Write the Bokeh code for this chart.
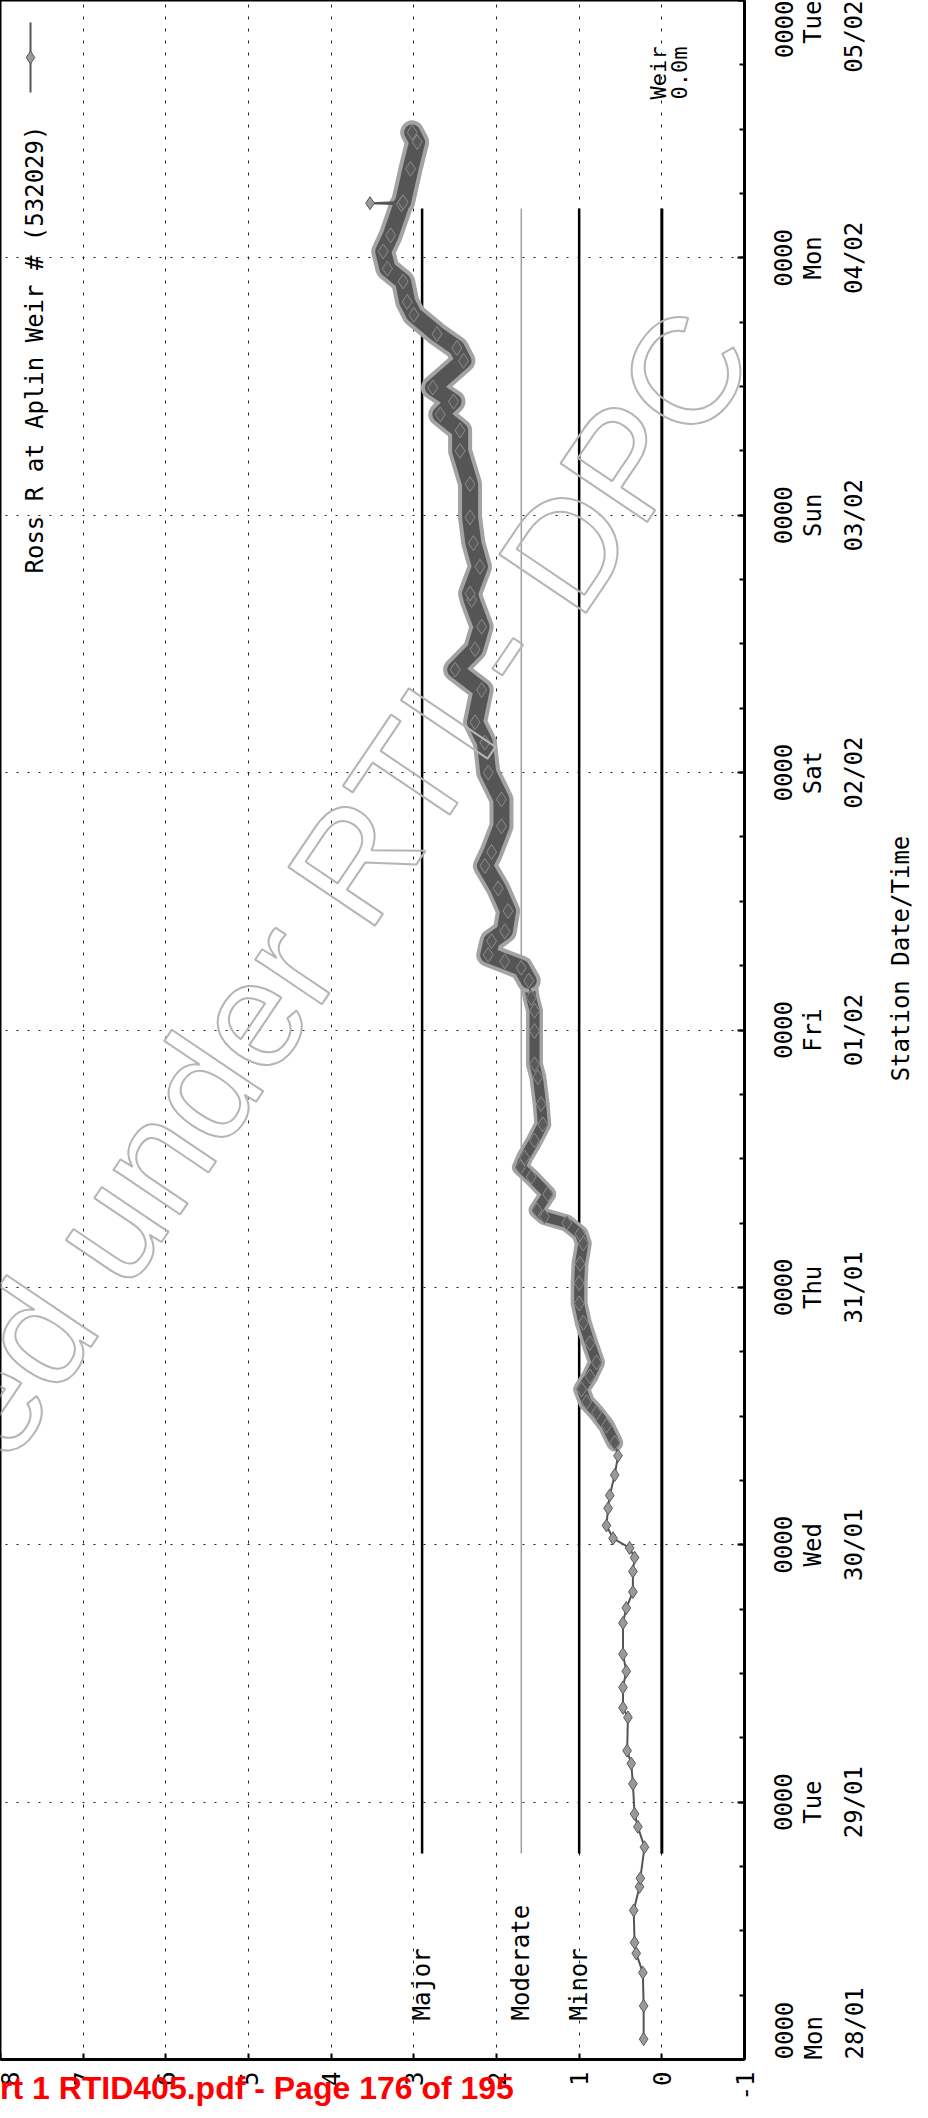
import math
from datetime import datetime, timedelta

from bokeh.plotting import figure
from bokeh.models import Range1d, FixedTicker, Label, ColumnDataSource, LinearAxis
from bokeh.embed import file_html
from bokeh.resources import INLINE

# ---------------- data ----------------
T0 = datetime(2019, 1, 28)

# hours after 28/01 00:00 and river height (m) - Ross R at Aplin Weir
hours = [1.9, 5.0, 8.1, 9.9, 10.9, 13.9, 16.1, 16.9, 19.8, 21.7, 22.9, 25.7, 27.6, 28.8,
         31.9, 32.8, 34.7, 36.2, 37.8, 40.7, 42.1, 43.6, 45.5, 46.8, 47.7, 48.6, 49.8, 51.4,
         52.6, 54.5, 56.3, 57.5, 59.1, 60.3, 61.3, 62.5, 63.7, 65.0, 66.8, 68.7, 70.5, 72.4,
         74.2, 76.1, 77.0, 78.0, 78.6, 79.2, 80.7, 82.3, 83.2, 84.1, 85.7, 87.2, 89.1, 91.6,
         92.8, 95.9, 97.8, 99.0, 100.6, 101.8, 102.4, 103.0, 104.3, 105.2, 107.1, 109.2,
         111.3, 112.6, 115.0, 117.5, 120.0, 122.8, 124.7, 127.7, 129.6, 131.5, 133.6, 136.1,
         136.7, 139.2, 141.4, 143.8, 146.9, 150.0, 151.9, 153.4, 154.6, 155.9, 158.4, 159.6,
         160.9, 162.7, 163.9, 165.8, 167.0, 168.6, 170.1, 173.0, 173.1, 173.2, 176.3, 178.8,
         179.7]
level = [0.22, 0.22, 0.23, 0.31, 0.33, 0.34, 0.27, 0.26, 0.21, 0.29, 0.33, 0.35, 0.37, 0.42,
         0.41, 0.47, 0.47, 0.43, 0.47, 0.47, 0.43, 0.35, 0.35, 0.33, 0.39, 0.59, 0.67, 0.65,
         0.63, 0.57, 0.53, 0.57, 0.67, 0.79, 0.91, 0.97, 0.87, 0.79, 0.87, 0.95, 1.00, 1.00,
         0.99, 0.95, 0.99, 1.15, 1.42, 1.51, 1.38, 1.58, 1.71, 1.66, 1.54, 1.44, 1.46, 1.50,
         1.54, 1.54, 1.54, 1.58, 1.61, 1.70, 1.90, 2.10, 2.06, 1.90, 1.86, 1.98, 2.14, 2.06,
         1.94, 1.94, 2.10, 2.14, 2.26, 2.18, 2.50, 2.26, 2.18, 2.30, 2.32, 2.20, 2.28, 2.32,
         2.32, 2.44, 2.44, 2.68, 2.52, 2.77, 2.40, 2.48, 2.72, 3.00, 3.08, 3.13, 3.32, 3.37,
         3.28, 3.15, 3.53, 3.13, 3.04, 2.96, 3.02]
spike_hours = [173.1]

threshold_names = ["Major", "Moderate", "Minor"]
threshold_values = [2.9, 1.7, 1.0, 0.0]
threshold_span_hours = [19.2, 172.6]
weir_label = ["Weir", "0.0m"]

day_hours = [0, 24, 48, 72, 96, 120, 144, 168, 192]
day_hhmm = ["0000"] * 9
day_names = ["Mon", "Tue", "Wed", "Thu", "Fri", "Sat", "Sun", "Mon", "Tue"]
day_dates = ["28/01", "29/01", "30/01", "31/01", "01/02", "02/02", "03/02", "04/02", "05/02"]
minor_hours = list(range(0, 193, 6))
value_ticks = [-1, 0, 1, 2, 3, 4, 5, 6, 7, 8]
value_labels = ["-1", "0", "1", "2", "3", "4", "5", "6", "7", "8"]

series_name = "Ross R at Aplin Weir # (532029)"
time_title = "Station Date/Time"
watermark = "Released under RTI - DPC"
footer = "rt 1 RTID405.pdf - Page 176 of 195"
x_span = [8, -1]
hour_span = [0, 192]

# ---------------- layout helpers ----------------
FW, FH = 744, 2059
PX0, PY1 = 8, 2067          # page px of frame left / bottom
PXH = FH / (hour_span[1] - hour_span[0])   # px per hour
MONO = "DejaVu Sans Mono"
FS = 24
CHAR = 0.6021 * FS          # monospace advance


def ms(h):
    return (T0 + timedelta(hours=h) - datetime(1970, 1, 1)).total_seconds() * 1000.0


def vx(px):   # page x -> value
    return x_span[0] - (px - PX0) * (x_span[0] - x_span[1]) / FW


def th(py):   # page y -> hours
    return (PY1 - py) / PXH


p = figure(frame_width=FW, frame_height=FH, output_backend="svg", toolbar_location=None,
           x_range=Range1d(x_span[0], x_span[1]), y_range=Range1d(ms(hour_span[0]), ms(hour_span[1])),
           y_axis_type="datetime", y_axis_location="right",
           min_border_left=0, min_border_top=0, min_border_right=160, min_border_bottom=43,
           background_fill_color="white", border_fill_color="white")
p.outline_line_color = "black"
p.outline_line_width = 2

# value axis (bottom); its axis label carries the page footer
xa = p.xaxis[0]
xa.ticker = FixedTicker(ticks=value_ticks)
xa.major_label_overrides = {float(v): s for v, s in zip(value_ticks, value_labels)}
xa.major_label_orientation = math.pi / 2
xa.major_label_text_font = MONO
xa.major_label_text_font_size = f"{FS}px"
xa.major_label_text_color = "black"
xa.major_label_standoff = 12
xa.major_tick_in = 6
xa.major_tick_out = 0
xa.major_tick_line_width = 2
xa.minor_tick_line_color = None
xa.axis_line_width = 3
xa.axis_label = footer + "\u00a0" * 26
xa.axis_label_text_font = "Liberation Sans"
xa.axis_label_text_font_style = "bold"
xa.axis_label_text_font_size = "32px"
xa.axis_label_text_color = "#ff0000"
xa.axis_label_standoff = -33

# time axis (right): ticks only (labels come from the text axes below)
ya = p.yaxis[0]
ya.ticker = FixedTicker(ticks=[ms(h) for h in day_hours], minor_ticks=[ms(h) for h in minor_hours])
ya.major_label_text_font_size = "0px"
ya.major_label_text_color = None
ya.major_label_standoff = 0
ya.major_tick_in = 7
ya.major_tick_out = 0
ya.major_tick_line_width = 2
ya.minor_tick_in = 5
ya.minor_tick_out = 0
ya.minor_tick_line_width = 2
ya.axis_line_width = 3

UPRIGHT = -3 * math.pi / 2   # reads bottom-to-top


def text_axis(hrs, texts, standoff):
    """extra right axis that only carries rotated labels, each centred on its hour
    (the label starts at its tick, so the tick sits half a label below the hour)"""
    ticks = []
    for h, s in zip(hrs, texts):
        t = max(h - len(s) * CHAR / 2 / PXH, hour_span[0])
        ticks.append(ms(t))
    ax = LinearAxis(ticker=FixedTicker(ticks=ticks),
                    major_label_overrides={t: s for t, s in zip(ticks, texts)},
                    major_label_orientation=UPRIGHT, major_label_standoff=standoff,
                    major_label_text_font=MONO, major_label_text_font_size=f"{FS}px",
                    major_label_text_color="black",
                    axis_line_color=None, major_tick_line_color=None, minor_tick_line_color=None)
    p.add_layout(ax, "right")


text_axis(day_hours, day_hhmm, 33)
text_axis(day_hours, day_names, 3)
text_axis(day_hours, day_dates, 4)
text_axis([th(966)], [time_title], 10)

p.xgrid.ticker = xa.ticker
p.ygrid.ticker = ya.ticker
p.xgrid.grid_line_color = "#222222"
p.xgrid.grid_line_dash = "3 9"
p.xgrid.grid_line_width = 1
p.ygrid.grid_line_color = "#222222"
p.ygrid.grid_line_dash = "2 9"
p.ygrid.grid_line_width = 1


def rot_label(x, y, text, size=f"{FS}px", align="center", font=MONO, color="black"):
    p.add_layout(Label(x=x, y=y, text=text, angle=math.pi / 2, text_align=align,
                       text_baseline="middle", text_font=font, text_font_size=size,
                       text_color=color))


# threshold lines
th_colors = ["black", "#a0a0a0", "black", "black"]
th_widths = [2.5, 1.5, 2.5, 3]
t_span = [T0 + timedelta(hours=h) for h in threshold_span_hours]
for v, c, w in zip(threshold_values, th_colors, th_widths):
    p.line(x=[v, v], y=t_span, line_color=c, line_width=w)

# series
times = [T0 + timedelta(hours=h) for h in hours]
dense = [h >= 57 and h not in spike_hours for h in hours]
band_mid = [(t, v) for t, v, h in zip(times, level, hours) if 57 <= h <= 101 and h not in spike_hours]
band_hi = [(t, v) for t, v, h in zip(times, level, hours) if h >= 100.6 and h not in spike_hours]
for seg, w_out, w_in in ((band_mid, 17, 10), (band_hi, 24, 16)):
    st = [a for a, b in seg]
    sv = [b for a, b in seg]
    p.line(x=sv, y=st, line_color="#a3a3a3", line_width=w_out, line_join="round", line_cap="round")
    p.line(x=sv, y=st, line_color="#555555", line_width=w_in, line_join="round", line_cap="round")

src_all = ColumnDataSource(dict(t=times, v=level))
p.line(x="v", y="t", source=src_all, line_color="#555555", line_width=2)
src_sparse = ColumnDataSource(dict(t=[t for t, d in zip(times, dense) if not d],
                                   v=[v for v, d in zip(level, dense) if not d]))
src_dense = ColumnDataSource(dict(t=[t for t, d in zip(times, dense) if d],
                                  v=[v for v, d in zip(level, dense) if d]))
p.scatter(x="v", y="t", source=src_dense, marker="diamond", size=15,
          fill_color="#5a5a5a", line_color="#8c8c8c", line_width=1)
p.scatter(x="v", y="t", source=src_sparse, marker="diamond", size=13,
          fill_color="#9a9a9a", line_color="#5a5a5a", line_width=1)

# legend (rotated, drawn by hand)
lg_x = vx(38)
p.line(x=[lg_x, lg_x], y=[T0 + timedelta(hours=th(100)), T0 + timedelta(hours=th(30))],
       line_color="#555555", line_width=2)
p.scatter(x=[lg_x], y=[T0 + timedelta(hours=th(65))], marker="diamond", size=13,
          fill_color="#9a9a9a", line_color="#5a5a5a")
rot_label(vx(42), ms(th(581)), series_name, align="left")

# threshold labels
for name, v in zip(threshold_names, threshold_values):
    rot_label(v, ms(th(2028)), name, align="left")
rot_label(vx(666), ms(th(107)), weir_label[0], size="22px", align="left")
rot_label(vx(687), ms(th(107)), weir_label[1], size="22px", align="left")

# watermark (outlined text)
p.add_layout(Label(x=vx(722), y=ms(th(335)), text=watermark, angle=math.radians(56),
                   text_align="right", text_baseline="middle", text_font="Liberation Sans",
                   text_font_size="152px", text_color="rgba(255,255,255,0)",
                   text_outline_color="#b5b5b5"))

open("out.html", "w").write(file_html(p, INLINE))
